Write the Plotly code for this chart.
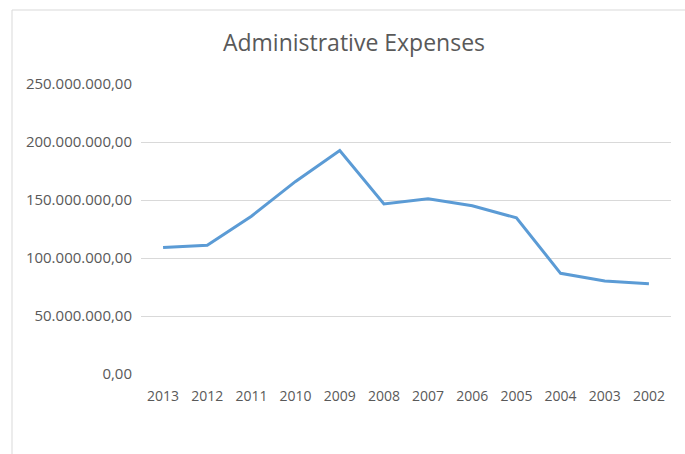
import plotly.graph_objects as go

years = ["2013", "2012", "2011", "2010", "2009", "2008", "2007", "2006", "2005", "2004", "2003", "2002"]
expenses = [109e6, 111e6, 136e6, 166e6, 192.7e6, 146.6e6, 151e6, 145e6, 134.6e6, 86.8e6, 80.2e6, 77.9e6]
tick_vals = [0, 50e6, 100e6, 150e6, 200e6, 250e6]
tick_text = ["0,00", "50.000.000,00", "100.000.000,00", "150.000.000,00", "200.000.000,00", "250.000.000,00"]

fig = go.Figure()
fig.add_trace(go.Scatter(x=years, y=expenses, mode="lines",
                         line=dict(color="#5B9BD5", width=3), showlegend=False))

L, R, T, B = 141, 14, 84, 80
W, H = 685, 454
pw, ph = W - L - R, H - T - B

fig.update_layout(
    width=W, height=H,
    margin=dict(l=L, r=R, t=T, b=B, autoexpand=False),
    paper_bgcolor="white", plot_bgcolor="white",
    font=dict(family="Open Sans, sans-serif", color="#595959", size=14),
    title=dict(text="Administrative Expenses", x=354 / W, xanchor="center",
               xref="container", y=1 - 43 / H, yanchor="middle",
               font=dict(size=23, color="#595959")),
    xaxis=dict(type="category", range=[-0.5, 11.5], showgrid=False, showline=False, ticks="",
               tickfont=dict(size=14, color="#595959"), ticklabelstandoff=12),
    yaxis=dict(range=[0, 250e6], tickvals=tick_vals, ticktext=tick_text,
               showgrid=True, gridcolor="#D9D9D9", gridwidth=1, zeroline=False,
               showline=False, ticks="", tickfont=dict(size=15, color="#595959"),
               ticklabelstandoff=8),
    shapes=[dict(type="rect", xref="paper", yref="paper",
                 x0=(12 - L) / pw, x1=(W + 5 - L) / pw,
                 y0=-(B + 5) / ph, y1=1 + (T - 10) / ph,
                 line=dict(color="#D9D9D9", width=1), fillcolor="rgba(0,0,0,0)")],
)

fig.write_html("out.html")
